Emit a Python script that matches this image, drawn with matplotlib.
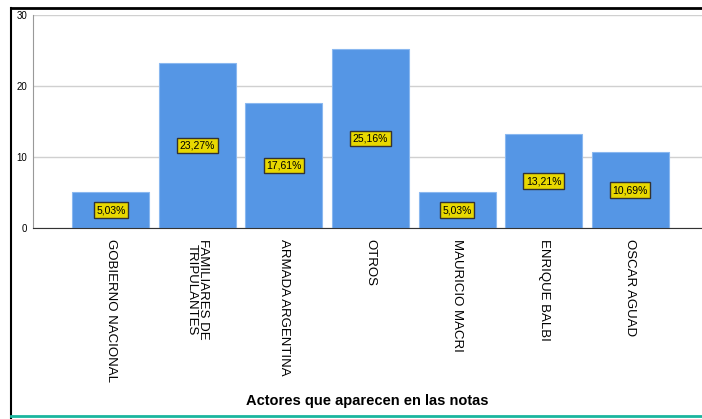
import matplotlib.pyplot as plt
from matplotlib.lines import Line2D

plt.rcParams['font.family'] = ['Liberation Sans', 'DejaVu Sans']

# Datos (porcentaje de apariciones)
actores = ['GOBIERNO NACIONAL', 'FAMILIARES DE\nTRIPULANTES', 'ARMADA ARGENTINA', 'OTROS',
           'MAURICIO MACRI', 'ENRIQUE BALBI', 'OSCAR AGUAD']
porcentaje = [5.03, 23.27, 17.61, 25.16, 5.03, 13.21, 10.69]
etiquetas = ['5,03%', '23,27%', '17,61%', '25,16%', '5,03%', '13,21%', '10,69%']

fig = plt.figure(figsize=(7.02, 4.19), dpi=100)
ax = fig.add_axes([0.047, 0.456, 0.953, 0.508])

x = range(len(actores))
ax.bar(x, porcentaje, width=0.89, color='#5596e5', edgecolor='#8ab8f0', linewidth=0.8, zorder=2)

for i, (v, p) in enumerate(zip(porcentaje, etiquetas)):
    ax.text(i, v / 2, p, ha='center', va='center', fontsize=7.5, zorder=3,
            bbox=dict(boxstyle='square,pad=0.25', facecolor='#e8d800', edgecolor='#333333', linewidth=1))

ax.set_xlim(-0.9, 6.83)
ax.set_ylim(0, 30)
ax.set_yticks([0, 10, 20, 30])
ax.tick_params(axis='y', labelsize=7, length=0, pad=4)
ax.tick_params(axis='x', length=0, pad=8)
ax.set_xticks(list(x))
ax.set_xticklabels(actores, rotation=-90, fontsize=9.5, ha='center', va='top', linespacing=0.85)
ax.grid(axis='y', color='#d0d0d0', linewidth=1, zorder=0)
ax.set_axisbelow(True)

for s in ['top', 'right']:
    ax.spines[s].set_visible(False)
ax.spines['left'].set_color('#999999')
ax.spines['bottom'].set_color('#333333')

ax.set_xlabel('Actores que aparecen en las notas', fontsize=10.5, fontweight='bold')
ax.xaxis.set_label_coords(0.5, -0.78)

# marco
fig.add_artist(Line2D([11 / 702, 11 / 702], [0, 1 - 8 / 419], color='black', linewidth=1.5))
fig.add_artist(Line2D([11 / 702, 1], [1 - 8 / 419, 1 - 8 / 419], color='black', linewidth=2))
fig.add_artist(Line2D([11 / 702, 1], [3 / 419, 3 / 419], color='#1ab59e', linewidth=2))

plt.savefig('out.png', dpi=100)
